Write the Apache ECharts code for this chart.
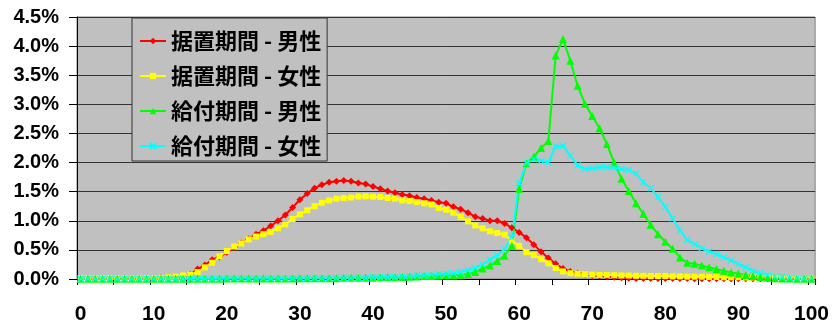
<!DOCTYPE html>
<html>
<head>
<meta charset="utf-8">
<script src="https://cdn.jsdelivr.net/npm/echarts@6/dist/echarts.min.js"></script>
<style>
  html, body { margin: 0; padding: 0; background: #ffffff; }
  #chart { width: 832px; height: 325px; }
</style>
</head>
<body>
<div id="chart"></div>
<script>
// Ages 0..100 on the horizontal axis
const ages = Array.from({ length: 101 }, (_, i) => String(i));

// Share of people at each age (%)
const suechiMale = [
  0.01, 0.01, 0.01, 0.01, 0.01, 0.01, 0.01, 0.01, 0.01, 0.01,
  0.01, 0.02, 0.02, 0.03, 0.045, 0.08, 0.17, 0.24, 0.33, 0.38,
  0.46, 0.54, 0.62, 0.69, 0.77, 0.83, 0.91, 1.00, 1.10, 1.23,
  1.36, 1.47, 1.56, 1.62, 1.66, 1.68, 1.69, 1.68, 1.65, 1.63,
  1.59, 1.55, 1.51, 1.48, 1.45, 1.43, 1.40, 1.38, 1.35, 1.32,
  1.30, 1.24, 1.20, 1.14, 1.07, 1.04, 1.00, 1.00, 0.955, 0.88,
  0.80, 0.71, 0.59, 0.47, 0.36, 0.26, 0.18, 0.13, 0.10, 0.085,
  0.06, 0.05, 0.04, 0.03, 0.02, 0.015, 0.01, 0.01, 0.01, 0.01,
  0.01, 0.01, 0.01, 0.01, 0.005, 0.005, 0.005, 0.005, 0.005, 0.005,
  0.005, 0.005, 0.005, 0.005, 0.005, 0.005, 0.005, 0.005, 0.005, 0.005,
  0.005
];
const suechiFemale = [
  0.015, 0.015, 0.015, 0.015, 0.015, 0.015, 0.015, 0.015, 0.015, 0.015,
  0.015, 0.02, 0.03, 0.04, 0.06, 0.075, 0.12, 0.20, 0.28, 0.39,
  0.48, 0.56, 0.61, 0.68, 0.73, 0.77, 0.81, 0.87, 0.94, 1.03,
  1.11, 1.18, 1.25, 1.31, 1.35, 1.38, 1.39, 1.40, 1.415, 1.42,
  1.415, 1.41, 1.39, 1.38, 1.35, 1.34, 1.32, 1.30, 1.28, 1.22,
  1.19, 1.14, 1.07, 0.99, 0.92, 0.87, 0.82, 0.79, 0.76, 0.65,
  0.57, 0.46, 0.41, 0.34, 0.27, 0.19, 0.13, 0.10, 0.09, 0.085,
  0.075, 0.07, 0.07, 0.065, 0.06, 0.06, 0.055, 0.055, 0.05, 0.05,
  0.05, 0.045, 0.045, 0.04, 0.04, 0.04, 0.035, 0.035, 0.03, 0.03,
  0.03, 0.025, 0.025, 0.02, 0.02, 0.02, 0.015, 0.015, 0.015, 0.01,
  0.01
];
const kyufuMale = [
  0.005, 0.005, 0.005, 0.005, 0.005, 0.005, 0.005, 0.005, 0.005, 0.005,
  0.005, 0.005, 0.005, 0.005, 0.005, 0.005, 0.005, 0.005, 0.005, 0.005,
  0.01, 0.01, 0.01, 0.01, 0.01, 0.01, 0.01, 0.01, 0.01, 0.01,
  0.015, 0.015, 0.015, 0.015, 0.015, 0.015, 0.02, 0.02, 0.02, 0.02,
  0.02, 0.03, 0.03, 0.03, 0.035, 0.04, 0.045, 0.05, 0.05, 0.055,
  0.06, 0.06, 0.07, 0.085, 0.12, 0.18, 0.23, 0.31, 0.40, 0.57,
  1.55, 1.99, 2.10, 2.25, 2.37, 3.84, 4.12, 3.75, 3.32, 3.01,
  2.80, 2.59, 2.32, 2.00, 1.72, 1.51, 1.30, 1.12, 0.93, 0.77,
  0.64, 0.52, 0.37, 0.28, 0.26, 0.23, 0.20, 0.17, 0.14, 0.11,
  0.09, 0.07, 0.05, 0.035, 0.02, 0.015, 0.01, 0.01, 0.005, 0.005,
  0.005
];
const kyufuFemale = [
  0.005, 0.005, 0.005, 0.005, 0.005, 0.005, 0.005, 0.005, 0.005, 0.005,
  0.005, 0.005, 0.005, 0.005, 0.005, 0.005, 0.005, 0.005, 0.005, 0.005,
  0.01, 0.01, 0.01, 0.01, 0.01, 0.01, 0.01, 0.01, 0.01, 0.01,
  0.015, 0.015, 0.015, 0.015, 0.015, 0.02, 0.02, 0.02, 0.02, 0.02,
  0.03, 0.03, 0.03, 0.03, 0.045, 0.045, 0.06, 0.06, 0.075, 0.085,
  0.09, 0.10, 0.12, 0.15, 0.19, 0.25, 0.33, 0.41, 0.51, 0.72,
  1.64, 1.99, 2.06, 2.03, 2.00, 2.28, 2.29, 2.12, 1.95, 1.89,
  1.90, 1.92, 1.92, 1.91, 1.89, 1.87, 1.81, 1.66, 1.56, 1.41,
  1.24, 1.04, 0.84, 0.67, 0.60, 0.53, 0.47, 0.43, 0.375, 0.32,
  0.26, 0.20, 0.14, 0.10, 0.07, 0.04, 0.03, 0.02, 0.015, 0.01,
  0.01
];

const seriesNames = ['据置期間 - 男性', '据置期間 - 女性', '給付期間 - 男性', '給付期間 - 女性'];
const seriesColors = ['#ff0000', '#ffff00', '#00ff00', '#00ffff'];

// Vertical scale (%)
const yMin = 0;
const yMax = 4.5;
const yStep = 0.5;

const labelFont = {
  color: '#000000',
  fontFamily: '"Liberation Sans", Arial, sans-serif',
  fontWeight: 'bold',
  fontSize: 20
};

const crossPath = 'path://M0,0L10,10M10,0L0,10';

function makeSeries(idx, data, symbol, size, extra) {
  return Object.assign({
    name: seriesNames[idx],
    type: 'line',
    data: data,
    symbol: symbol,
    symbolSize: size,
    showSymbol: true,
    showAllSymbol: true,
    animation: false,
    lineStyle: { color: seriesColors[idx], width: 2 },
    itemStyle: { color: seriesColors[idx] },
    emphasis: { disabled: true }
  }, extra || {});
}

const chart = echarts.init(document.getElementById('chart'), null, { renderer: 'canvas' });
chart.setOption({
  animation: false,
  backgroundColor: '#ffffff',
  grid: {
    left: 77, right: 16, top: 17, bottom: 44,
    show: true,
    backgroundColor: '#c0c0c0',
    borderColor: '#808080',
    borderWidth: 1
  },
  legend: {
    orient: 'vertical',
    left: 132,
    top: 18,
    padding: [12, 6, 4, 7],
    itemGap: 13,
    itemWidth: 26,
    itemHeight: 8,
    backgroundColor: '#c0c0c0',
    borderColor: '#333333',
    borderWidth: 1,
    borderRadius: 0,
    textStyle: {
      color: '#000000',
      fontFamily: '"Noto Sans CJK JP", sans-serif',
      fontWeight: 'bold',
      fontSize: 22,
      lineHeight: 22
    },
    data: seriesNames
  },
  xAxis: {
    type: 'category',
    data: ages,
    boundaryGap: true,
    axisLine: { lineStyle: { color: '#000000', width: 1 } },
    axisTick: { show: true, interval: 4, length: 6, lineStyle: { color: '#000000' } },
    axisLabel: Object.assign({ interval: 9, margin: 25 }, labelFont, { fontSize: 21 }),
    splitLine: { show: false }
  },
  yAxis: {
    type: 'value',
    min: yMin,
    max: yMax,
    interval: yStep,
    axisLine: { show: true, lineStyle: { color: '#000000', width: 1 } },
    axisTick: { show: true, length: 8, lineStyle: { color: '#000000' } },
    axisLabel: Object.assign({
      margin: 18,
      formatter: v => v.toFixed(1) + '%'
    }, labelFont),
    splitLine: { show: true, lineStyle: { color: '#333333', width: 1 } }
  },
  series: [
    makeSeries(0, suechiMale, 'diamond', 7),
    makeSeries(1, suechiFemale, 'rect', 6),
    makeSeries(2, kyufuMale, 'triangle', 8),
    makeSeries(3, kyufuFemale, crossPath, 6, {
      itemStyle: { color: 'rgba(0,0,0,0)', borderColor: seriesColors[3], borderWidth: 1.2 }
    })
  ]
});
</script>
</body>
</html>
